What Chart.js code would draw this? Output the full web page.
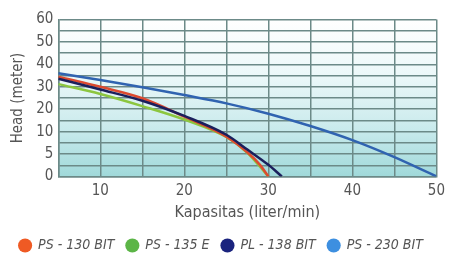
<!DOCTYPE html>
<html>
<head>
<meta charset="utf-8">
<script src="https://cdn.jsdelivr.net/npm/chart.js@4/dist/chart.umd.min.js"></script>
<style>
  html, body { margin: 0; padding: 0; background: #fff; }
  #wrap { width: 451px; height: 257px; }
</style>
</head>
<body>
<div id="wrap"><canvas id="grafik" width="451" height="257"></canvas></div>
<script>
// tick labels
const headTicks = [0, 5, 10, 20, 30, 40, 50, 60];
const flowTicks = [10, 20, 30, 40, 50];

// series names
const seriesNames = ["PS - 130 BIT", "PS - 135 E", "PL - 138 BIT", "PS - 230 BIT"];

// flow (liter/min) and head (meter)
const ps130Flow = [5, 10, 15, 20, 25, 27.5, 29, 30];
const ps130Head = [34.5, 30.0, 24.9, 16.7, 8.9, 5.4, 2.6, 0];

const ps135Flow = [5, 10, 15, 20, 25, 27.5, 30];
const ps135Head = [31.2, 26.8, 21.4, 15.4, 8.8, 5.3, 0];

const pl138Flow = [5, 10, 15, 20, 25, 27.5, 30, 31.6];
const pl138Head = [33.6, 28.8, 23.8, 17.0, 9.3, 6.0, 2.6, 0];

const ps230Flow = [5, 10, 15, 20, 25, 30, 35, 40, 45, 50];
const ps230Head = [36.0, 33.0, 29.8, 26.3, 22.6, 18.0, 12.5, 8.1, 4.3, 0];

const FONT = "'Liberation Sans Narrow', 'DejaVu Sans Condensed', 'Liberation Sans', sans-serif";

// head axis: each labelled interval gets the same height (0-5, 5-10, 10-20 ...)
function headToSeg(v) {
  const n = headTicks.length - 1;
  if (v <= headTicks[0]) return 0;
  for (let i = 0; i < n; i++) {
    if (v <= headTicks[i + 1]) {
      return i + (v - headTicks[i]) / (headTicks[i + 1] - headTicks[i]);
    }
  }
  return n;
}
function segToHead(s) {
  const n = headTicks.length - 1;
  const i = Math.max(0, Math.min(n - 1, Math.floor(s)));
  return headTicks[i] + (s - i) * (headTicks[i + 1] - headTicks[i]);
}

class HeadScale extends Chart.LinearScale {
  buildTicks() {
    const vals = [];
    headTicks.forEach((t, i) => {
      vals.push(t);
      if (i < headTicks.length - 1) vals.push((t + headTicks[i + 1]) / 2);
    });
    return vals.map(v => ({ value: v }));
  }
  getPixelForValue(value) {
    return this.getPixelForDecimal(headToSeg(value) / (headTicks.length - 1));
  }
  getValueForPixel(pixel) {
    return segToHead(this.getDecimalForPixel(pixel) * (headTicks.length - 1));
  }
}
HeadScale.id = "head";
HeadScale.defaults = Chart.LinearScale.defaults;
Chart.register(HeadScale);

function seri(flow, head) {
  return flow.map((x, i) => ({ x: x, y: head[i] }));
}

// background gradient behind the grid
const arkaPlan = {
  id: "arkaPlan",
  beforeDraw(chart) {
    const { ctx, chartArea: a } = chart;
    const g = ctx.createLinearGradient(0, a.top, 0, a.bottom);
    g.addColorStop(0, "#ffffff");
    g.addColorStop(0.35, "#ecf8f9");
    g.addColorStop(0.7, "#c9eaec");
    g.addColorStop(1, "#a0d9da");
    ctx.save();
    ctx.fillStyle = g;
    ctx.fillRect(a.left, a.top, a.right - a.left, a.bottom - a.top);
    ctx.restore();
  }
};

const gridRenk = "#6c8a88";

new Chart(document.getElementById("grafik"), {
  type: "line",
  data: {
    datasets: [
      { label: seriesNames[0], data: seri(ps130Flow, ps130Head), borderColor: "#dc4a30", backgroundColor: "#ef5a24", order: 1 },
      { label: seriesNames[1], data: seri(ps135Flow, ps135Head), borderColor: "#8cc63f", backgroundColor: "#5cb547", order: 2 },
      { label: seriesNames[2], data: seri(pl138Flow, pl138Head), borderColor: "#1b1f5c", backgroundColor: "#1a237e", order: 0 },
      { label: seriesNames[3], data: seri(ps230Flow, ps230Head), borderColor: "#3063b0", backgroundColor: "#3d8fe0", order: 3 }
    ]
  },
  options: {
    responsive: false,
    animation: false,
    devicePixelRatio: 1,
    layout: { padding: { left: 0, right: 9, top: 19.5, bottom: -5.5 } },
    elements: {
      point: { radius: 0 },
      line: { borderWidth: 2.5, cubicInterpolationMode: "monotone", fill: false }
    },
    scales: {
      x: {
        type: "linear",
        min: 5,
        max: 50,
        afterFit(s) { s.height = 50; },
        ticks: {
          stepSize: 5,
          autoSkip: false,
          maxRotation: 0,
          padding: 6,
          color: "#555",
          font: { family: FONT, size: 15 },
          callback: v => flowTicks.includes(v) ? String(v) : ""
        },
        grid: { color: gridRenk, lineWidth: 1.5, drawTicks: false },
        border: { color: gridRenk, width: 1.5 },
        title: {
          display: true,
          text: "Kapasitas (liter/min)",
          color: "#555",
          font: { family: FONT, size: 16, lineHeight: 1 },
          padding: { top: 0, bottom: 6 }
        }
      },
      y: {
        type: "head",
        min: 0,
        max: 60,
        afterFit(s) { s.width = 58.3; },
        ticks: {
          autoSkip: false,
          padding: 5,
          color: "#555",
          font: { family: FONT, size: 15 },
          callback: v => headTicks.includes(v) ? String(v) : ""
        },
        grid: { color: gridRenk, lineWidth: 1.5, drawTicks: false },
        border: { color: gridRenk, width: 1.5 },
        title: {
          display: true,
          text: "Head (meter)",
          color: "#555",
          font: { family: FONT, size: 15, lineHeight: 1 },
          padding: { top: 11, bottom: 0 }
        }
      }
    },
    plugins: {
      tooltip: { enabled: false },
      legend: {
        position: "bottom",
        labels: {
          usePointStyle: true,
          boxWidth: 12,
          boxHeight: 10,
          padding: 12,
          color: "#555",
          font: { family: FONT, size: 14, style: "italic" },
          sort: (a, b) => a.datasetIndex - b.datasetIndex,
          generateLabels(chart) {
            const items = Chart.defaults.plugins.legend.labels.generateLabels(chart);
            items.forEach(it => {
              it.pointStyle = "circle";
              it.strokeStyle = it.fillStyle;
              it.lineWidth = 0;
            });
            return items;
          }
        }
      }
    }
  },
  plugins: [arkaPlan]
});
</script>
</body>
</html>
